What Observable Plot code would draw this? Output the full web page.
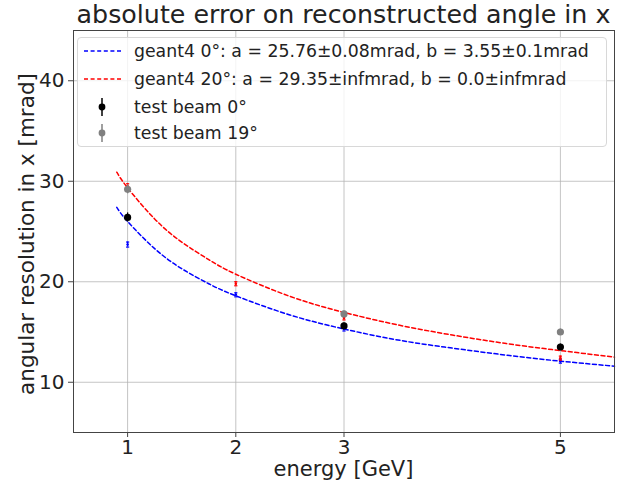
<!DOCTYPE html>
<html>
<head>
<meta charset="utf-8">
<script src="https://cdn.jsdelivr.net/npm/d3@7"></script>
<script src="https://cdn.jsdelivr.net/npm/@observablehq/plot@0.6"></script>
<style>
  html, body { margin: 0; padding: 0; background: #fff; }
  #wrap { position: relative; width: 633px; height: 484px; background: #fff; font-family: "DejaVu Sans", sans-serif; color: #222; overflow: hidden; }
  #wrap > svg { position: absolute; left: 0; top: 0; }
  .abs { position: absolute; white-space: nowrap; }
</style>
</head>
<body>
<div id="wrap"></div>
<script>
// ---- data ----
const xTicks = [1, 2, 3, 5];
const yTicks = [10, 20, 30, 40];

// fitted curves (geant4)
const fitEnergy = [0.9, 1, 1.25, 1.5, 1.75, 2, 2.5, 3, 3.5, 4, 4.5, 5, 5.5];
const fit0deg  = [27.4, 26.0, 23.3, 21.3, 19.8, 18.6, 16.7, 15.3, 14.2, 13.4, 12.7, 12.1, 11.6];
const fit20deg = [30.9, 29.35, 26.25, 23.95, 22.2, 20.75, 18.55, 16.95, 15.7, 14.7, 13.85, 13.15, 12.5];

// geant4 simulated points
const simEnergy = [1, 2, 3, 5];
const sim0deg  = [23.7, 18.7, 15.3, 12.1];
const sim20deg = [29.5, 19.8, 16.4, 12.4];
const simErr   = [0.25, 0.2, 0.2, 0.2];

// test beam points
const beamEnergy = [1, 3, 5];
const beam0deg  = [26.4, 15.6, 13.5];
const beam0Err  = [0.45, 0.3, 0.3];
const beam19deg = [29.2, 16.8, 15.0];
const beam19Err = [0.45, 0.3, 0.3];

const legendLabels = [
  "geant4 0°: a = 25.76±0.08mrad, b = 3.55±0.1mrad",
  "geant4 20°: a = 29.35±infmrad, b = 0.0±infmrad",
  "test beam 0°",
  "test beam 19°"
];
const titleText = "absolute error on reconstructed angle in x";
const xLabel = "energy [GeV]";
const yLabel = "angular resolution in x [mrad]";

// ---- build tables ----
const fitRows0 = fitEnergy.map((e, i) => ({E: e, v: fit0deg[i]}));
const fitRows20 = fitEnergy.map((e, i) => ({E: e, v: fit20deg[i]}));
const simRows0 = simEnergy.map((e, i) => ({E: e, v: sim0deg[i], lo: sim0deg[i] - simErr[i], hi: sim0deg[i] + simErr[i]}));
const simRows20 = simEnergy.map((e, i) => ({E: e, v: sim20deg[i], lo: sim20deg[i] - simErr[i], hi: sim20deg[i] + simErr[i]}));
const beamRows0 = beamEnergy.map((e, i) => ({E: e, v: beam0deg[i], lo: beam0deg[i] - beam0Err[i], hi: beam0deg[i] + beam0Err[i]}));
const beamRows19 = beamEnergy.map((e, i) => ({E: e, v: beam19deg[i], lo: beam19deg[i] - beam19Err[i], hi: beam19deg[i] + beam19Err[i]}));

const cap = {draw(ctx, size) { const r = Math.sqrt(size / Math.PI); ctx.moveTo(-r, 0); ctx.lineTo(r, 0); }};

const blue = "#0000ff", red = "#ff0000", grey = "#808080";

const chart = Plot.plot({
  width: 633,
  height: 484,
  marginLeft: 73,
  marginRight: 19,
  marginTop: 30,
  marginBottom: 52,
  style: {fontFamily: "DejaVu Sans, sans-serif", background: "transparent", color: "#222"},
  x: {type: "linear", domain: [0.5, 5.5]},
  y: {type: "linear", domain: [5, 45]},
  marks: [
    Plot.gridX(xTicks, {stroke: "#b0b0b0", strokeOpacity: 0.75, strokeWidth: 1}),
    Plot.gridY(yTicks, {stroke: "#b0b0b0", strokeOpacity: 0.75, strokeWidth: 1}),
    Plot.line(fitRows0, {x: "E", y: "v", stroke: blue, strokeWidth: 1.5, strokeDasharray: "4,2.6", curve: "natural"}),
    Plot.line(fitRows20, {x: "E", y: "v", stroke: red, strokeWidth: 1.5, strokeDasharray: "4,2.6", curve: "natural"}),
    Plot.ruleX(simRows0, {x: "E", y1: "lo", y2: "hi", stroke: blue, strokeWidth: 1.2}),
    Plot.dot(simRows0, {x: "E", y: "lo", symbol: cap, r: 1.6, stroke: blue, strokeWidth: 1.2}),
    Plot.dot(simRows0, {x: "E", y: "hi", symbol: cap, r: 1.6, stroke: blue, strokeWidth: 1.2}),
    Plot.dot(simRows0, {x: "E", y: "v", r: 1.3, fill: blue}),
    Plot.ruleX(simRows20, {x: "E", y1: "lo", y2: "hi", stroke: red, strokeWidth: 1.2}),
    Plot.dot(simRows20, {x: "E", y: "lo", symbol: cap, r: 1.6, stroke: red, strokeWidth: 1.2}),
    Plot.dot(simRows20, {x: "E", y: "hi", symbol: cap, r: 1.6, stroke: red, strokeWidth: 1.2}),
    Plot.dot(simRows20, {x: "E", y: "v", r: 1.3, fill: red}),
    Plot.ruleX(beamRows19, {x: "E", y1: "lo", y2: "hi", stroke: grey, strokeWidth: 1.3}),
    Plot.dot(beamRows19, {x: "E", y: "v", r: 3.6, fill: grey}),
    Plot.ruleX(beamRows0, {x: "E", y1: "lo", y2: "hi", stroke: "#000", strokeWidth: 1.3}),
    Plot.dot(beamRows0, {x: "E", y: "v", r: 3.6, fill: "#000"}),
    Plot.frame({stroke: "#444", strokeWidth: 1}),
    Plot.axisX(xTicks, {tickSize: 5, tickPadding: 2, fontSize: 20, label: null, tickFormat: d => String(d), stroke: "#444"}),
    Plot.axisY(yTicks, {tickSize: 5, tickPadding: 4, fontSize: 20, label: null, tickFormat: d => String(d), stroke: "#444"})
  ]
});

const wrap = document.getElementById("wrap");
wrap.appendChild(chart);

// title
const t = document.createElement("div");
t.className = "abs";
t.style.cssText = "left:73px;width:541px;top:1px;text-align:center;font-size:25.3px;line-height:28px;";
t.textContent = titleText;
wrap.appendChild(t);

// x label
const xl = document.createElement("div");
xl.className = "abs";
xl.style.cssText = "left:73px;width:541px;top:459px;text-align:center;font-size:21px;line-height:21px;";
xl.textContent = xLabel;
wrap.appendChild(xl);

// y label
const yl = document.createElement("div");
yl.className = "abs";
yl.style.cssText = "left:27px;top:234px;font-size:21.5px;line-height:24px;transform:translate(-50%,-50%) rotate(-90deg);";
yl.textContent = yLabel;
wrap.appendChild(yl);

// legend
const lg = document.createElement("div");
lg.className = "abs";
lg.style.cssText = "left:77px;top:37px;width:528px;height:108px;border:1px solid #d8d8d8;border-radius:4px;background:rgba(255,255,255,0.8);";
wrap.appendChild(lg);
const handles = [
  `<svg width="40" height="20"><line x1="2" x2="39" y1="10" y2="10" stroke="${blue}" stroke-width="1.5" stroke-dasharray="4,2.6"/></svg>`,
  `<svg width="40" height="20"><line x1="2" x2="39" y1="10" y2="10" stroke="${red}" stroke-width="1.5" stroke-dasharray="4,2.6"/></svg>`,
  `<svg width="40" height="20"><line x1="20" x2="20" y1="1" y2="19" stroke="#000" stroke-width="1.5"/><circle cx="20" cy="10" r="3.4" fill="#000"/></svg>`,
  `<svg width="40" height="20"><line x1="20" x2="20" y1="1" y2="19" stroke="${grey}" stroke-width="1.5"/><circle cx="20" cy="10" r="3.4" fill="${grey}"/></svg>`
];
const rowY = [13, 41, 69, 95];
legendLabels.forEach((lab, i) => {
  const h = document.createElement("div");
  h.className = "abs";
  h.style.cssText = `left:4px;top:${rowY[i] - 10}px;width:40px;height:20px;`;
  h.innerHTML = handles[i];
  lg.appendChild(h);
  const s = document.createElement("div");
  s.className = "abs";
  s.style.cssText = `left:56px;top:${rowY[i] - 11}px;font-size:17.3px;line-height:22px;`;
  s.textContent = lab;
  lg.appendChild(s);
});
</script>
</body>
</html>
